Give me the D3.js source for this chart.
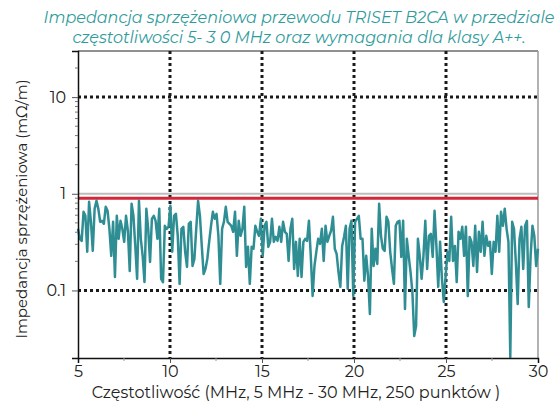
<!DOCTYPE html>
<html><head><meta charset="utf-8">
<script src="https://cdn.jsdelivr.net/npm/d3@7"></script>
<style>body{margin:0;background:#fff}svg{display:block}</style>
</head><body><svg id="c" width="558" height="403"></svg>
<script>
const titleLines = ["Impedancja sprzężeniowa przewodu TRISET B2CA w przedziale",
                    "częstotliwości 5- 3 0 MHz oraz wymagania dla klasy A++."];
const xLabel = "Częstotliwość (MHz, 5 MHz - 30 MHz, 250 punktów )";
const yLabel = "Impedancja sprzężeniowa (mΩ/m)";
const freqStart = 5, freqEnd = 30;
const impedance = [
 0.434,0.342,0.326,0.651,0.592,0.251,0.826,0.513,0.257,0.700,
 0.846,0.700,0.513,0.525,0.489,0.733,0.667,0.434,0.228,0.513,
 0.138,0.592,0.342,0.525,0.434,0.318,0.592,0.414,0.159,0.788,
 0.592,0.289,0.132,0.846,0.342,0.228,0.122,0.700,0.434,0.197,
 0.551,0.592,0.525,0.342,0.700,0.132,0.122,0.466,0.434,0.455,
 0.751,0.251,
 0.592,0.620,0.367,0.117,0.434,0.455,0.251,0.175,0.489,0.513,
 0.179,0.212,0.434,0.846,0.592,0.289,0.148,0.167,0.212,0.318,
 0.466,0.651,0.551,0.620,0.367,0.117,0.434,0.513,0.733,0.513,
 0.489,0.466,0.404,0.651,0.228,0.525,0.367,0.434,0.733,0.175,
 0.283,0.117,0.283,0.270,0.466,0.404,0.367,
 0.551,0.228,0.466,0.513,0.282,0.318,0.551,0.318,0.358,0.326,
 0.455,0.318,0.513,0.404,0.385,0.202,0.434,0.551,0.167,0.318,
 0.141,0.342,0.138,0.318,0.342,0.326,0.525,0.228,0.0875,0.179,
 0.251,0.342,0.303,0.434,0.202,0.466,0.318,0.367,0.414,0.578,
 0.270,0.239,0.155,0.109,0.289,0.358,0.466,0.104,0.434,0.525,0.0875,
 0.513,0.551,0.592,0.342,0.342,0.126,0.228,0.141,0.0572,0.434,
 0.179,0.270,0.188,0.788,0.367,0.270,0.257,0.578,0.513,0.251,
 0.167,0.117,0.466,0.513,0.525,0.222,0.525,0.0644,0.342,0.228,
 0.155,0.0966,0.0338,0.0429,0.342,0.228,0.132,0.228,0.525,0.167,
 0.367,0.385,0.222,0.667,0.289,0.109,0.318,0.132,0.0760,0.141,0.251,
 0.202,0.578,0.202,0.289,0.122,0.404,0.342,0.455,0.228,0.455,
 0.0875,0.358,0.318,0.179,0.466,0.155,0.404,0.251,0.513,0.228,
 0.367,0.289,0.318,0.148,0.318,0.251,0.592,0.251,0.651,0.466,
 0.700,0.434,0.318,0.0205,0.513,0.434,0.197,0.0725,0.342,0.455,
 0.167,0.466,0.525,0.0675,0.228,0.466,0.367,0.179,0.270
];
const limitA = 0.9;
const refLevel = 1;
const xTicks = [5,10,15,20,25,30];
const xMinorTicks = [7.5,12.5,17.5,22.5,27.5];
const yTicks = [0.1,1,10];
const yTickLabels = ["0.1","1","10"];
const yMinorTicks = [0.2,0.3,0.4,0.5,0.6,0.7,0.8,0.9,2,3,4,5,6,7,8,9,20];
const xGrid = [10,15,20,25];
const yGrid = [0.1,10];
const yDomain = [0.02,30];

const W = 558, H = 403;
const m = {l:78, r:20, t:51, b:45};
const svg = d3.select("#c");
const font = "Montserrat, 'Open Sans', 'DejaVu Sans', sans-serif";
const x = d3.scaleLinear().domain([freqStart,freqEnd]).range([m.l, W-m.r]);
const y = d3.scaleLog().domain(yDomain).range([H-m.b, m.t]);
const n = impedance.length;
const pts = impedance.map((v,i)=>({f: freqStart + i*(freqEnd-freqStart)/(n-1), v}));

svg.append("line").attr("x1",m.l).attr("x2",W-m.r).attr("y1",m.t).attr("y2",m.t)
  .attr("stroke","#222").attr("stroke-width",1);
svg.append("line").attr("x1",W-m.r).attr("x2",W-m.r).attr("y1",m.t).attr("y2",H-m.b)
  .attr("stroke","#999").attr("stroke-width",1.5);

const g = svg.append("g");
g.selectAll(".vg").data(xGrid).join("line")
  .attr("x1",d=>x(d)).attr("x2",d=>x(d)).attr("y1",m.t).attr("y2",H-m.b)
  .attr("stroke","#1a1a1a").attr("stroke-width",3).attr("stroke-dasharray","3,3");
g.selectAll(".hg").data(yGrid).join("line")
  .attr("x1",m.l).attr("x2",W-m.r).attr("y1",d=>y(d)).attr("y2",d=>y(d))
  .attr("stroke","#1a1a1a").attr("stroke-width",3).attr("stroke-dasharray","3,3");

svg.append("line").attr("x1",m.l).attr("x2",W-m.r).attr("y1",y(refLevel)).attr("y2",y(refLevel))
  .attr("stroke","#bdbdbd").attr("stroke-width",2);

svg.append("path").datum(pts)
  .attr("d", d3.line().x(d=>x(d.f)).y(d=>y(d.v)))
  .attr("fill","none").attr("stroke","#2f8e93").attr("stroke-width",2.5)
  .attr("stroke-linejoin","round");

svg.append("line").attr("x1",m.l).attr("x2",W-m.r).attr("y1",y(limitA)).attr("y2",y(limitA))
  .attr("stroke","#d3283a").attr("stroke-width",3);

const xAxis = svg.append("g").attr("transform",`translate(0,${H-m.b})`)
  .call(d3.axisBottom(x).tickValues(xTicks).tickFormat(d3.format("d")).tickSize(5).tickPadding(3));
xAxis.selectAll(".tick").filter(d=>d===5||d===30).select("line").remove();
xAxis.select(".domain").attr("stroke","#111").attr("stroke-width",1.5);
xAxis.selectAll("text").attr("font-family",font).attr("font-size",16).attr("fill","#222");
xAxis.selectAll(".tick line").attr("stroke","#555");
svg.append("g").selectAll("line").data(xMinorTicks).join("line")
  .attr("x1",d=>x(d)).attr("x2",d=>x(d)).attr("y1",H-m.b).attr("y2",H-m.b+3)
  .attr("stroke","#999");

const yAxis = svg.append("g").attr("transform",`translate(${m.l},0)`)
  .call(d3.axisLeft(y).tickValues(yTicks).tickFormat((d,i)=>yTickLabels[i]).tickSize(6).tickPadding(6));
yAxis.select(".domain").attr("stroke","#111").attr("stroke-width",1.5);
yAxis.selectAll("text").attr("font-family",font).attr("font-size",16).attr("fill","#222");
yAxis.selectAll(".tick line").attr("stroke","#555");
svg.append("g").selectAll("line").data(yMinorTicks).join("line")
  .attr("x1",m.l-3).attr("x2",m.l).attr("y1",d=>y(d)).attr("y2",d=>y(d))
  .attr("stroke","#777");

svg.append("text").attr("x",296).attr("y",398).attr("text-anchor","middle")
  .attr("font-family",font).attr("font-size",16).attr("fill","#222").text(xLabel);
svg.append("text").attr("transform","translate(27,209) rotate(-90)").attr("text-anchor","middle")
  .attr("font-family",font).attr("font-size",15).attr("fill","#222").text(yLabel);
svg.selectAll(".title").data(titleLines).join("text")
  .attr("x",299).attr("y",(d,i)=>23+i*20).attr("text-anchor","middle")
  .attr("font-family",font).attr("font-style","italic").attr("font-size",16)
  .attr("fill","#2f9b9b").text(d=>d);
</script></body></html>
